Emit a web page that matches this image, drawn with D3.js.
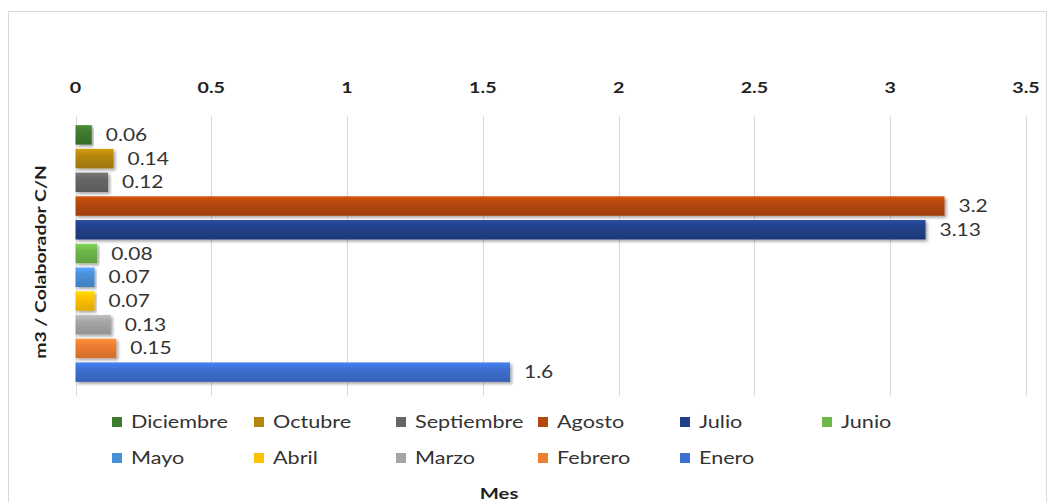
<!DOCTYPE html>
<html>
<head>
<meta charset="utf-8">
<script src="https://cdn.jsdelivr.net/npm/d3@7"></script>
<style>
  body { margin: 0; background: #fff; }
  text { font-family: Lato, "Open Sans", sans-serif; }
</style>
</head>
<body>
<svg width="1057" height="502"></svg>
<script>
var months = ["Diciembre", "Octubre", "Septiembre", "Agosto", "Julio", "Junio",
              "Mayo", "Abril", "Marzo", "Febrero", "Enero"];
var values = [0.06, 0.14, 0.12, 3.2, 3.13, 0.08, 0.07, 0.07, 0.13, 0.15, 1.6];
var labels = ["0.06", "0.14", "0.12", "3.2", "3.13", "0.08", "0.07", "0.07", "0.13", "0.15", "1.6"];
var colors = ["#3f7a2f", "#b5860e", "#666666", "#b4470f", "#22408a", "#6cb84a",
              "#4a90d9", "#ffc000", "#a5a5a5", "#ed7d31", "#3d6fd1"];
var ticks = [0, 0.5, 1, 1.5, 2, 2.5, 3, 3.5];
var tickLabels = ["0", "0.5", "1", "1.5", "2", "2.5", "3", "3.5"];

var svg = d3.select("svg");
var sx = 1.27; // horizontal stretch of the original text

var x = d3.scaleLinear().domain([0, 3.5]).range([75.5, 1026]);
var y = d3.scaleBand().domain(months).range([123, 384]).paddingInner(0.18).paddingOuter(0.09);
var z = d3.scaleOrdinal().domain(months).range(colors);

// outer frame
svg.append("rect")
    .attr("x", 8.5).attr("y", 11.5)
    .attr("width", 1038).attr("height", 500)
    .attr("fill", "none").attr("stroke", "#d9d9d9");

var defs = svg.append("defs");
var shadow = defs.append("filter").attr("id", "shadow")
    .attr("x", "-5%").attr("y", "-30%").attr("width", "115%").attr("height", "180%");
shadow.append("feDropShadow")
    .attr("dx", 2).attr("dy", 2).attr("stdDeviation", 1.5)
    .attr("flood-color", "#000").attr("flood-opacity", 0.35);

months.forEach(function(m, i) {
  var c = d3.color(colors[i]);
  var g = defs.append("linearGradient").attr("id", "grad" + i)
      .attr("x1", 0).attr("y1", 0).attr("x2", 0).attr("y2", 1);
  g.append("stop").attr("offset", "0%").attr("stop-color", c.brighter(0.45));
  g.append("stop").attr("offset", "35%").attr("stop-color", c);
  g.append("stop").attr("offset", "100%").attr("stop-color", c.darker(0.35));
});

// gridlines
svg.append("g").selectAll("line")
  .data(ticks)
  .enter().append("line")
    .attr("x1", function(d) { return Math.round(x(d)) + 0.5; })
    .attr("x2", function(d) { return Math.round(x(d)) + 0.5; })
    .attr("y1", 116).attr("y2", 396)
    .attr("stroke", "#d9d9d9");

// tick labels on top
svg.append("g").selectAll("text")
  .data(ticks)
  .enter().append("text")
    .attr("transform", function(d) { return "translate(" + x(d) + ",93) scale(" + sx + ",1)"; })
    .attr("text-anchor", "middle")
    .style("font-size", "15.5px").style("font-weight", "bold").style("fill", "#1f1f1f")
    .text(function(d, i) { return tickLabels[i]; });

// bars
svg.append("g").selectAll("rect")
  .data(values)
  .enter().append("rect")
    .attr("x", x(0))
    .attr("y", function(d, i) { return y(months[i]); })
    .attr("width", function(d) { return x(d) - x(0); })
    .attr("height", y.bandwidth())
    .attr("fill", function(d, i) { return "url(#grad" + i + ")"; })
    .attr("filter", "url(#shadow)");

// value labels
svg.append("g").selectAll("text")
  .data(values)
  .enter().append("text")
    .attr("transform", function(d, i) {
      return "translate(" + (x(d) + 14) + "," + (y(months[i]) + y.bandwidth() / 2 + 6) + ") scale(" + sx + ",1)";
    })
    .style("font-size", "16.5px").style("fill", "#333")
    .text(function(d, i) { return labels[i]; });

// y axis title
svg.append("text")
    .attr("transform", "translate(46,262) rotate(-90) scale(1.25,1)")
    .attr("text-anchor", "middle")
    .style("font-size", "15.5px").style("font-weight", "bold").style("fill", "#1f1f1f")
    .text("m3 / Colaborador C/N");

// legend
var legend = svg.append("g").selectAll("g")
  .data(months)
  .enter().append("g")
    .attr("transform", function(d, i) {
      var col = i < 6 ? i : i - 6, row = i < 6 ? 0 : 1;
      return "translate(" + (112 + col * 142) + "," + (422 + row * 36) + ")";
    });
legend.append("rect")
    .attr("x", 0).attr("y", -5).attr("width", 10).attr("height", 10)
    .attr("fill", function(d) { return z(d); });
legend.append("text")
    .attr("transform", "translate(19,6) scale(" + sx + ",1)")
    .style("font-size", "17px").style("fill", "#333")
    .text(function(d) { return d; });

// x axis title
svg.append("text")
    .attr("transform", "translate(499,499) scale(" + sx + ",1)")
    .attr("text-anchor", "middle")
    .style("font-size", "16px").style("font-weight", "bold").style("fill", "#1f1f1f")
    .text("Mes");
</script>
</body>
</html>
